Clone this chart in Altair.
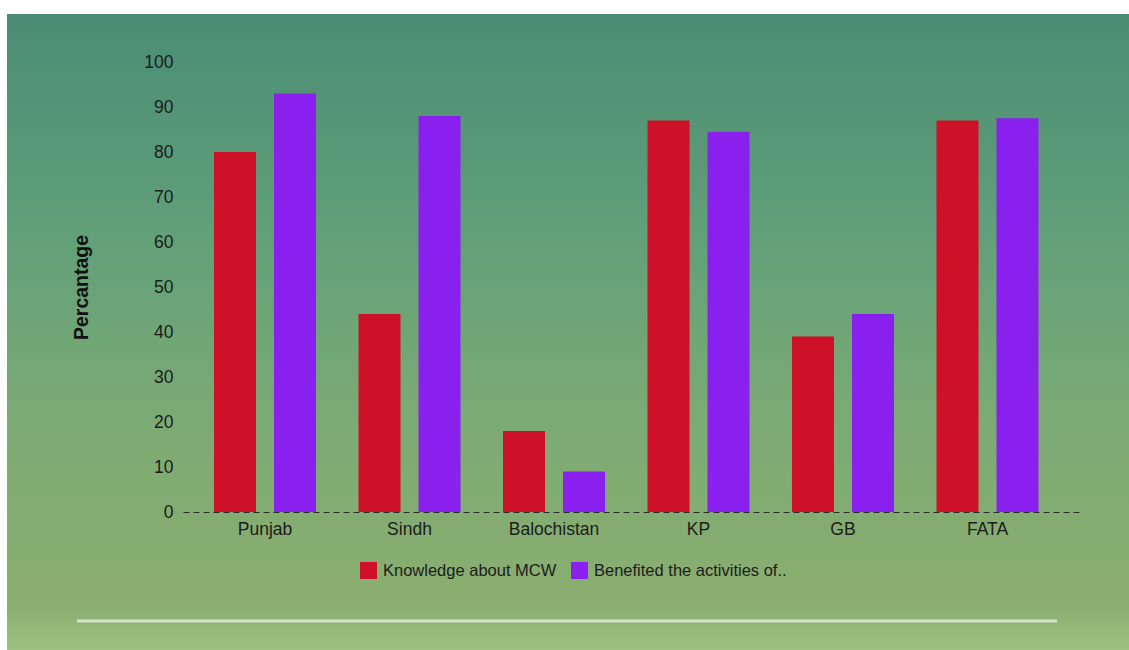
import altair as alt
import pandas as pd

# Survey results by region
regions = ["Punjab", "Sindh", "Balochistan", "KP", "GB", "FATA"]
series_names = ["Knowledge about MCW", "Benefited the activities of.."]
knowledge = [80, 44, 18, 87, 39, 87]
benefited = [93, 88, 9, 84.5, 44, 87.5]
y_ticks = [0, 10, 20, 30, 40, 50, 60, 70, 80, 90, 100]
series_colors = ["#cf1029", "#8a20ee"]

rows = []
for i, r in enumerate(regions):
    rows.append({"Region": r, "Series": series_names[0], "Value": knowledge[i]})
    rows.append({"Region": r, "Series": series_names[1], "Value": benefited[i]})
df = pd.DataFrame(rows)

FONT = "Liberation Sans"
W, H = 897, 450

# Card background with a vertical teal-to-olive gradient
card_fill = alt.Gradient(
    gradient="linear",
    x1=0, x2=0, y1=0, y2=1,
    stops=[
        alt.GradientStop(color="#4a8d74", offset=0.0),
        alt.GradientStop(color="#62a079", offset=0.35),
        alt.GradientStop(color="#7dab74", offset=0.65),
        alt.GradientStop(color="#8aae6f", offset=0.93),
        alt.GradientStop(color="#9cc281", offset=1.0),
    ],
)
background = alt.Chart(pd.DataFrame({"k": [0]})).mark_rect(
    fill=card_fill
).encode(
    x=alt.value(-176), x2=alt.value(946),
    y=alt.value(-48), y2=alt.value(588),
)

bars = alt.Chart(df).mark_bar().encode(
    x=alt.X(
        "Region:N",
        sort=regions,
        title=None,
        scale=alt.Scale(paddingInner=0, paddingOuter=0.1038, align=0.325),
        axis=alt.Axis(
            labelAngle=0,
            labelFont=FONT,
            labelFontSize=17.5,
            labelColor="#1c1c1c",
            labelPadding=8,
            ticks=False,
            domain=True,
            domainColor="#2a2a2a",
            domainDash=[6, 4],
            domainWidth=1,
            zindex=1,
        ),
    ),
    xOffset=alt.XOffset(
        "Series:N",
        sort=series_names,
        scale=alt.Scale(paddingInner=0.3, paddingOuter=0.354),
    ),
    y=alt.Y(
        "Value:Q",
        title="Percantage",
        scale=alt.Scale(domain=[0, 100], nice=False),
        axis=alt.Axis(
            values=y_ticks,
            labelFont=FONT,
            labelFontSize=17.5,
            labelColor="#1c1c1c",
            labelPadding=10,
            ticks=False,
            domain=False,
            grid=False,
            titleFont=FONT,
            titleFontSize=19.5,
            titleFontWeight="bold",
            titleColor="#111111",
            titleX=-102,
            titleY=225,
            titleBaseline="middle",
            zindex=1,
        ),
    ),
    color=alt.Color(
        "Series:N",
        sort=series_names,
        scale=alt.Scale(domain=series_names, range=series_colors),
        legend=alt.Legend(
            title=None,
            orient="none",
            direction="horizontal",
            legendX=177,
            legendY=500,
            symbolType="square",
            symbolSize=289,
            symbolOpacity=1,
            symbolStrokeWidth=0,
            labelFont=FONT,
            labelFontSize=16.5,
            labelColor="#1c1c1c",
            labelLimit=400,
            labelOffset=6,
            columnPadding=14,
        ),
    ),
)

# Light separator line below the legend
separator = alt.Chart(pd.DataFrame({"k": [0]})).mark_rule(
    color="#d3e3cc", strokeWidth=3
).encode(
    x=alt.value(-106), x2=alt.value(874), y=alt.value(559),
)

chart = alt.layer(background, bars, separator).properties(
    width=W,
    height=H,
    padding={"left": 183, "top": 62, "right": 49, "bottom": 138},
    autosize=alt.AutoSizeParams(type="none"),
    background="white",
).configure_view(stroke=None)

chart.save("out.html", embed_options={"renderer": "svg", "actions": False})
